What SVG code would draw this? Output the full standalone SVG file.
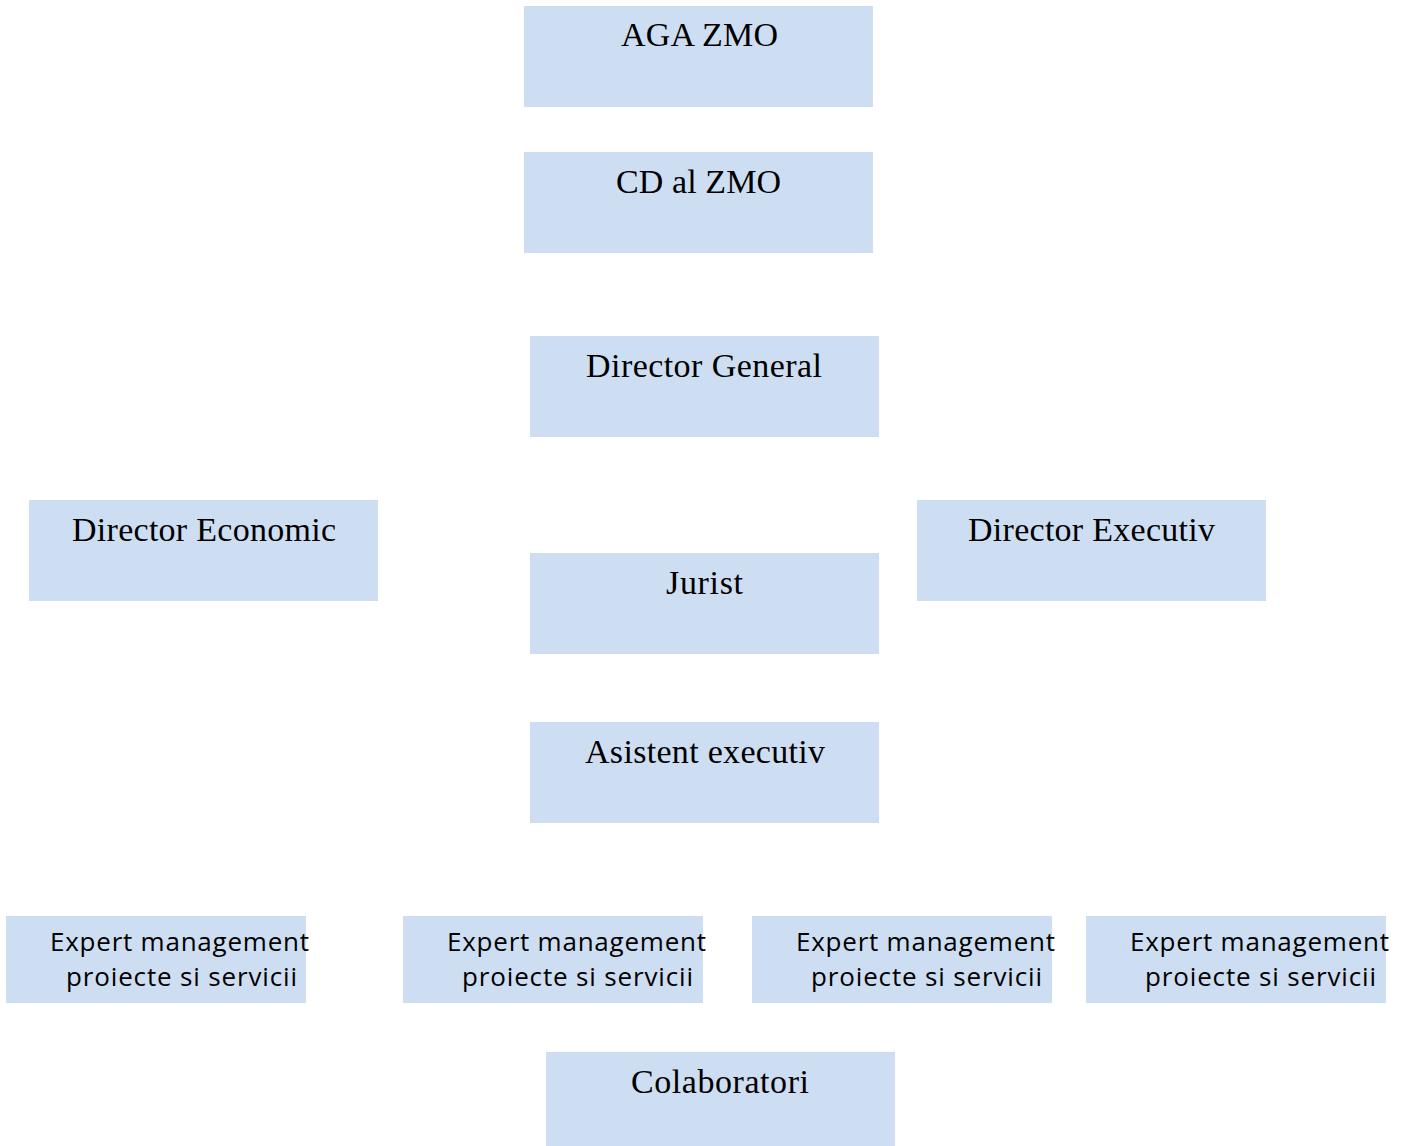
<svg xmlns="http://www.w3.org/2000/svg" width="1409" height="1146" viewBox="0 0 1409 1146">
<style>
.box{fill:#CEDEF2;}
.t{font-family:"Liberation Serif","Times New Roman",serif;font-size:34px;fill:#000;}
.s{font-family:"Open Sans","Noto Sans",sans-serif;font-size:26px;fill:#000;}
</style>
<rect width="1409" height="1146" fill="#fff"/>
<g id="connectors"></g>
<g id="aga"><rect class="box" x="524" y="6" width="349" height="101"/><text class="t" x="621" y="46" textLength="157">AGA ZMO</text></g>
<g id="cd"><rect class="box" x="524" y="152" width="349" height="101"/><text class="t" x="616" y="193" textLength="165">CD al ZMO</text></g>
<g id="dg"><rect class="box" x="530" y="336" width="349" height="101"/><text class="t" x="586" y="377" textLength="236">Director General</text></g>
<g id="de"><rect class="box" x="29" y="500" width="349" height="101"/><text class="t" x="72" y="541" textLength="264">Director Economic</text></g>
<g id="dx"><rect class="box" x="917" y="500" width="349" height="101"/><text class="t" x="968" y="541" textLength="247">Director Executiv</text></g>
<g id="jurist"><rect class="box" x="530" y="553" width="349" height="101"/><text class="t" x="666" y="594" textLength="77">Jurist</text></g>
<g id="asist"><rect class="box" x="530" y="722" width="349" height="101"/><text class="t" x="585" y="763" textLength="240">Asistent executiv</text></g>
<g id="exp1"><rect class="box" x="6" y="916" width="300" height="87"/><text class="s" x="50" y="951" textLength="259">Expert management</text><text class="s" x="66" y="986" textLength="231">proiecte si servicii</text></g>
<g id="exp2"><rect class="box" x="403" y="916" width="300" height="87"/><text class="s" x="447" y="951" textLength="259">Expert management</text><text class="s" x="462" y="986" textLength="231">proiecte si servicii</text></g>
<g id="exp3"><rect class="box" x="752" y="916" width="300" height="87"/><text class="s" x="796" y="951" textLength="259">Expert management</text><text class="s" x="811" y="986" textLength="231">proiecte si servicii</text></g>
<g id="exp4"><rect class="box" x="1086" y="916" width="300" height="87"/><text class="s" x="1130" y="951" textLength="259">Expert management</text><text class="s" x="1145" y="986" textLength="231">proiecte si servicii</text></g>
<g id="colab"><rect class="box" x="546" y="1052" width="349" height="94"/><text class="t" x="631" y="1093" textLength="178">Colaboratori</text></g>
</svg>
